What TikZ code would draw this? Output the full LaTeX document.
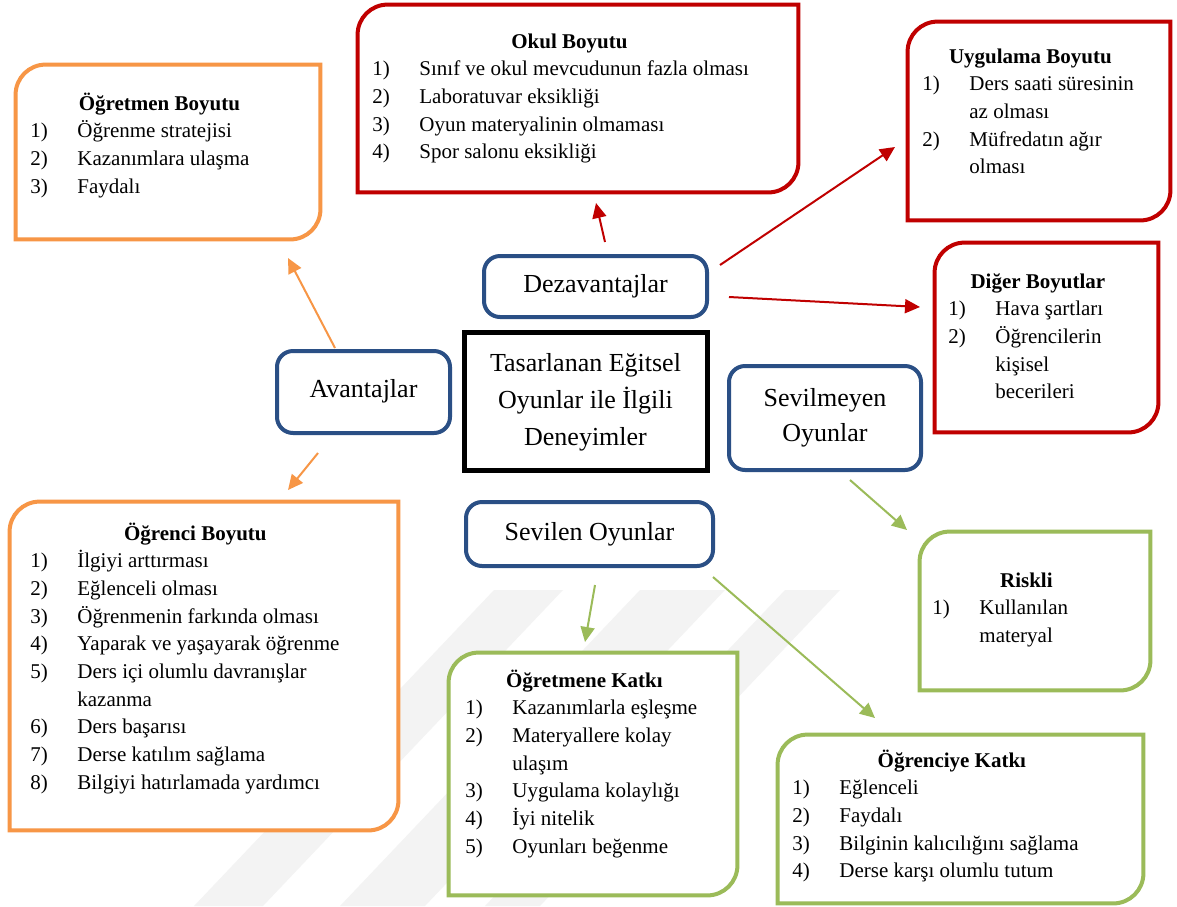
\documentclass[tikz,border=0pt]{standalone}
\usepackage{fontspec}
\setmainfont{Liberation Serif}
\usetikzlibrary{arrows.meta,fit}
\definecolor{cOrange}{HTML}{F79646}
\definecolor{cRed}{HTML}{C00000}
\definecolor{cGreen}{HTML}{9BBB59}
\definecolor{cBlue}{HTML}{2A4F85}
\definecolor{cMark}{HTML}{F3F3F3}
\newcommand\mylistfont{\fontsize{10.5pt}{13.85pt}\selectfont}
\newcommand\myttl[1]{\makebox[\myttw pt]{\bfseries #1}\par}
\newcommand\myitm[2]{\noindent\hangindent=23.5pt\hangafter=1\makebox[23.5pt][l]{#1}#2\par}
% #1 name, #2 colour, #3 x1, #4 y1, #5 x2, #6 y2, #7 title baseline offset, #8 left pad, #9 content
\newcommand\mylistbox[9]{%
  \node[fit={(#3,#4)(#5,#6)}, inner sep=0pt, draw=none] (#1) {};
  \draw[#2, line width=2pt, fill=white] ([yshift=-15pt]#1.north west)
     arc[start angle=180,end angle=90,radius=15pt] -- (#1.north east)
     -- ([yshift=15pt]#1.south east)
     arc[start angle=0,end angle=-90,radius=15pt] -- (#1.south west) -- cycle;
  \pgfmathsetmacro\myttw{(#5-#3-2*#8-18)*0.5}
  \pgfmathsetmacro\mympw{(#5-#3-#8)*0.5}
  \node[anchor=base west, inner sep=0pt] (#1-text) at (#3+#8,#4+#7)
     {\begin{minipage}[t]{\mympw pt}\mylistfont\hbadness=10000 #9\end{minipage}};
}
\tikzset{
  bnode/.style={draw=cBlue, line width=2pt, rounded corners=8pt, inner sep=0pt,
     font=\fontsize{13pt}{17.5pt}\selectfont, align=center, fill=white},
  oarr/.style={cOrange, line width=1pt, -{Triangle[length=7.5pt,width=7pt]}},
  rarr/.style={cRed, line width=1pt, -{Triangle[length=7.5pt,width=7pt]}},
  garr/.style={cGreen, line width=1pt, -{Triangle[length=7.5pt,width=7pt]}},
  markband/.style={fill=cMark, draw=none},
}
\begin{document}
\begin{tikzpicture}[x=0.5pt,y=-0.5pt]
\fill[white] (0,0) rectangle (1177,906);
\useasboundingbox (0,0) rectangle (1177,906);

% faint watermark bands
\fill[markband] (494,590) -- (563,590) -- (263,906) -- (194,906) -- cycle;
\fill[markband] (640,590) -- (725,590) -- (425,906) -- (340,906) -- cycle;
\fill[markband] (785,590) -- (840,590) -- (540,906) -- (485,906) -- cycle;

% list boxes
\mylistbox{ogretmen}{cOrange}{16}{65}{320}{239}{45}{14}{%
  \myttl{Öğretmen Boyutu}
  \myitm{1)}{Öğrenme stratejisi}
  \myitm{2)}{Kazanımlara ulaşma}
  \myitm{3)}{Faydalı}}
\mylistbox{okul}{cRed}{358}{5}{798}{192}{43}{14}{%
  \myttl{Okul Boyutu}
  \myitm{1)}{Sınıf ve okul mevcudunun fazla olması}
  \myitm{2)}{Laboratuvar eksikliği}
  \myitm{3)}{Oyun materyalinin olmaması}
  \myitm{4)}{Spor salonu eksikliği}}
\mylistbox{uygulama}{cRed}{908}{22}{1170}{220}{41}{14}{%
  \myttl{Uygulama Boyutu}
  \myitm{1)}{Ders saati süresinin\\az olması}
  \myitm{2)}{Müfredatın ağır\\olması}}
\mylistbox{diger}{cRed}{935}{243}{1158}{432}{45}{13}{%
  \myttl{Diğer Boyutlar}
  \myitm{1)}{Hava şartları}
  \myitm{2)}{Öğrencilerin\\kişisel\\becerileri}}
\mylistbox{ogrenci}{cOrange}{10}{502}{398}{830}{38}{20}{%
  \myttl{Öğrenci Boyutu}
  \myitm{1)}{İlgiyi arttırması}
  \myitm{2)}{Eğlenceli olması}
  \myitm{3)}{Öğrenmenin farkında olması}
  \myitm{4)}{Yaparak ve yaşayarak öğrenme}
  \myitm{5)}{Ders içi olumlu davranışlar\\kazanma}
  \myitm{6)}{Ders başarısı}
  \myitm{7)}{Derse katılım sağlama}
  \myitm{8)}{Bilgiyi hatırlamada yardımcı}}
\mylistbox{ogretmenekatki}{cGreen}{449}{653}{737}{895}{34}{16}{%
  \myttl{Öğretmene Katkı}
  \myitm{1)}{Kazanımlarla eşleşme}
  \myitm{2)}{Materyallere kolay\\ulaşım}
  \myitm{3)}{Uygulama kolaylığı}
  \myitm{4)}{İyi nitelik}
  \myitm{5)}{Oyunları beğenme}}
\mylistbox{ogrenciyekatki}{cGreen}{778}{735}{1143}{903}{32}{14}{%
  \myttl{Öğrenciye Katkı}
  \myitm{1)}{Eğlenceli}
  \myitm{2)}{Faydalı}
  \myitm{3)}{Bilginin kalıcılığını sağlama}
  \myitm{4)}{Derse karşı olumlu tutum}}
\mylistbox{riskli}{cGreen}{920}{532}{1150}{690}{55}{12}{%
  \myttl{Riskli}
  \myitm{1)}{Kullanılan\\materyal}}

% central nodes
\node[draw=black, line width=2.5pt, minimum width=121.5pt, minimum height=69pt,
      inner sep=0pt, align=center, fill=white, font=\fontsize{13pt}{18pt}\selectfont]
      (merkez) at (585.5,401) {\raisebox{1pt}{\begin{tabular}{@{}c@{}}Tasarlanan Eğitsel\\[0.5pt] Oyunlar ile İlgili\\[0.5pt] Deneyimler\end{tabular}}};
\node[bnode, minimum width=111.5pt, minimum height=30.5pt] (dez) at (595.5,286.5) {Dezavantajlar};
\node[bnode, minimum width=86.5pt, minimum height=41pt] (avan) at (363.5,392) {\raisebox{3.5pt}{Avantajlar}};
\node[bnode, minimum width=96pt, minimum height=52pt] (sevilmeyen) at (825,418) {Sevilmeyen\\Oyunlar};
\node[bnode, minimum width=123.5pt, minimum height=32pt] (sevilen) at (589.5,534) {Sevilen Oyunlar};

% connector end points
\coordinate (a1s) at (335,348); \coordinate (a1e) at (288,258);
\coordinate (a2s) at (318,453); \coordinate (a2e) at (288,490);
\coordinate (d1s) at (605,242); \coordinate (d1e) at (596,203);
\coordinate (d2s) at (720,265); \coordinate (d2e) at (895,147);
\coordinate (d3s) at (729,297); \coordinate (d3e) at (920,307);
\coordinate (m1s) at (850,480); \coordinate (m1e) at (907,530);
\coordinate (s1s) at (595,585); \coordinate (s1e) at (585,642);
\coordinate (s2s) at (713,577); \coordinate (s2e) at (875,718);

\draw[oarr] (a1s) -- (a1e);
\draw[oarr] (a2s) -- (a2e);
\draw[rarr] (d1s) -- (d1e);
\draw[rarr] (d2s) -- (d2e);
\draw[rarr] (d3s) -- (d3e);
\draw[garr] (m1s) -- (m1e);
\draw[garr] (s1s) -- (s1e);
\draw[garr] (s2s) -- (s2e);
\end{tikzpicture}
\end{document}
